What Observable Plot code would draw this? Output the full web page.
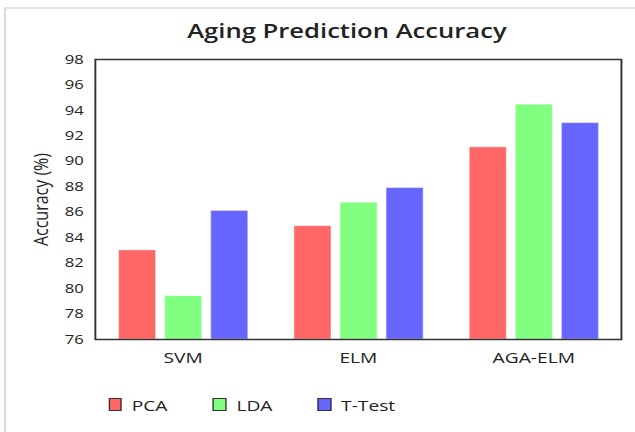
<!DOCTYPE html>
<html><head><meta charset="utf-8">
<script src="https://cdn.jsdelivr.net/npm/d3@7"></script>
<script src="https://cdn.jsdelivr.net/npm/@observablehq/plot@0.6"></script>
<style>
html,body{margin:0;padding:0;background:#fff;}
body{width:635px;height:432px;overflow:hidden;position:relative;font-family:"Open Sans",sans-serif;}
#outer{position:absolute;left:4px;top:7px;width:700px;height:500px;border-left:2px solid #d9d9d9;border-top:2px solid #e2e2e2;}
#chart{position:absolute;left:0;top:0;width:496px;height:432px;transform:scaleX(1.28);transform-origin:0 0;}
#title{position:absolute;left:46px;width:450px;top:19px;text-align:center;font-size:20px;line-height:24px;font-weight:600;color:#222;white-space:nowrap;}
#plot{position:absolute;left:0;top:43px;}
#legend{position:absolute;left:84.6px;top:395.5px;display:flex;font-size:15px;line-height:18px;color:#222;}
.item{flex:0 0 81.8px;display:flex;align-items:center;}
.sw{width:10.5px;height:12.5px;box-sizing:border-box;border:1.5px solid #333;margin-right:7.8px;}
svg g[aria-label^="fx-axis"] text{font-size:15px;}
</style>
</head><body>
<div id="outer"></div>
<div id="chart">
  <div id="title"></div>
  <div id="plot"></div>
  <div id="legend"></div>
</div>
<script>
const titleText = "Aging Prediction Accuracy";
const yLabel = "Accuracy (%)";
const models = ["SVM", "ELM", "AGA-ELM"];
const series = ["PCA", "LDA", "T-Test"];
const pcaValues = [83.0, 84.9, 91.1];
const ldaValues = [79.4, 86.75, 94.45];
const ttestValues = [86.1, 87.9, 93.0];
const seriesColors = ["#ff6666", "#80ff80", "#6666ff"];
const yTicks = [76, 78, 80, 82, 84, 86, 88, 90, 92, 94, 96, 98];

const valuesBySeries = [pcaValues, ldaValues, ttestValues];
const data = models.flatMap((m, i) => series.map((s, j) => ({model: m, series: s, value: valuesBySeries[j][i]})));
const yMin = yTicks[0], yMax = yTicks[yTicks.length - 1];

document.getElementById("title").textContent = titleText;

const plot = Plot.plot({
  width: 496,
  height: 337,
  marginTop: 16,
  marginBottom: 41,
  marginLeft: 73.4,
  marginRight: 10.9,
  style: {fontFamily: "Open Sans", fontSize: "13px", color: "#222", background: "transparent", overflow: "visible"},
  facet: {data, x: "model"},
  fx: {domain: models, padding: 0, label: null, tickSize: 0, tickPadding: 13, axis: "bottom"},
  x: {domain: series, paddingInner: 0.2, paddingOuter: 0.47, axis: null},
  y: {domain: [yMin, yMax], ticks: yTicks, tickSize: 0, tickPadding: 9, label: null},
  color: {domain: series, range: seriesColors},
  marks: [
    Plot.barY(data, {x: "series", y1: yMin, y2: "value", fill: "series", inset: 0, stroke: "#fff", strokeOpacity: 0.4, strokeWidth: 1}),
    Plot.frame({facet: "super", stroke: "#333", strokeWidth: 1.5}),
    Plot.text([yLabel], {facet: "super", frameAnchor: "left", textAnchor: "middle", lineAnchor: "middle", rotate: -90, dx: -42, text: d => d, fontSize: 16, fill: "#222"})
  ]
});
document.getElementById("plot").appendChild(plot);

const legend = document.getElementById("legend");
series.forEach((s, i) => {
  const item = document.createElement("div");
  item.className = "item";
  const sw = document.createElement("div");
  sw.className = "sw";
  sw.style.background = seriesColors[i];
  const label = document.createElement("span");
  label.textContent = s;
  item.appendChild(sw);
  item.appendChild(label);
  legend.appendChild(item);
});
</script>
</body></html>
